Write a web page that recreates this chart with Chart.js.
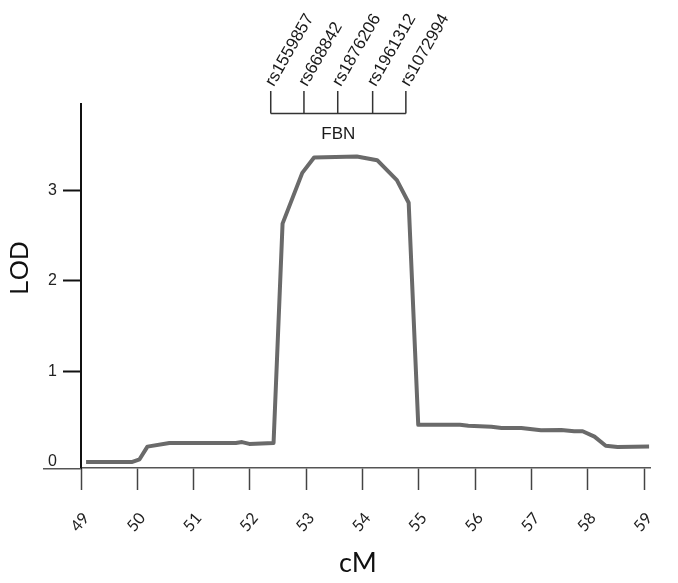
<!DOCTYPE html>
<html lang="en">
<head>
<meta charset="UTF-8" />
<title>LOD – FBN</title>
<script src="https://cdn.jsdelivr.net/npm/chart.js"></script>
<style>
  html, body { margin: 0; padding: 0; background: #fff; }
  canvas { display: block; }
</style>
</head>
<body>
<canvas id="chart-lod" width="678" height="583"></canvas>
<script>
// positions (cM) and LOD values
const cmPos = [49.09, 49.90, 50.04, 50.18, 50.57, 51.75, 51.86, 51.99, 52.42, 52.58, 52.93, 53.14, 53.90, 54.26, 54.61, 54.82, 54.99, 55.73, 55.88, 56.29, 56.47, 56.82, 57.17, 57.53, 57.76, 57.91, 58.12, 58.32, 58.53, 59.09];
const lodValues = [0.0, 0.0, 0.03, 0.17, 0.21, 0.21, 0.22, 0.20, 0.21, 2.63, 3.19, 3.36, 3.37, 3.33, 3.11, 2.86, 0.41, 0.41, 0.40, 0.39, 0.375, 0.375, 0.35, 0.353, 0.34, 0.34, 0.28, 0.18, 0.166, 0.17];

const xTicks = [49, 50, 51, 52, 53, 54, 55, 56, 57, 58, 59];
const yTicks = [0, 1, 2, 3];

// markers inside FBN
const snpNames = ['rs1559857', 'rs668842', 'rs1876206', 'rs1961312', 'rs1072994'];
const snpPos = [52.37, 52.96, 53.56, 54.18, 54.77];
const geneName = 'FBN';

const annot = {
    id: 'annot',
    afterDraw(chart) {
        const { ctx, chartArea, scales: { x } } = chart;
        ctx.save();

        // x axis runs a bit past the y axis on the left
        ctx.strokeStyle = '#555';
        ctx.lineWidth = 1.5;
        ctx.beginPath();
        ctx.moveTo(43, x.top + 0.75);
        ctx.lineTo(chartArea.left, x.top + 0.75);
        ctx.stroke();

        // gene bracket with SNP ticks
        const px = snpPos.map(v => x.getPixelForValue(v));
        ctx.strokeStyle = '#333';
        ctx.lineWidth = 1.5;
        ctx.beginPath();
        ctx.moveTo(px[0], 113.5);
        ctx.lineTo(px[px.length - 1], 113.5);
        px.forEach(p => { ctx.moveTo(p, 91); ctx.lineTo(p, 113.5); });
        ctx.stroke();

        ctx.fillStyle = '#1a1a1a';
        ctx.font = '17px "Liberation Sans", Arial, sans-serif';
        ctx.textAlign = 'left';
        ctx.textBaseline = 'middle';
        px.forEach((p, i) => {
            ctx.save();
            ctx.translate(p - 1, 85);
            ctx.rotate(-60 * Math.PI / 180);
            ctx.fillText(snpNames[i], 0, 0);
            ctx.restore();
        });

        ctx.font = '17px "Liberation Sans", Arial, sans-serif';
        ctx.textAlign = 'center';
        ctx.fillText(geneName, (px[0] + px[px.length - 1]) / 2, 134);

        // axis titles
        ctx.fillStyle = '#111';
        ctx.font = '26px "Liberation Sans", Arial, sans-serif';
        ctx.save();
        ctx.translate(21, 268);
        ctx.rotate(-Math.PI / 2);
        ctx.fillText('LOD', 0, 0);
        ctx.restore();

        ctx.font = '27px Lato, "Open Sans", sans-serif';
        ctx.fillText('cM', 358, 563);
        ctx.restore();
    }
};

new Chart(document.getElementById('chart-lod').getContext('2d'), {
    type: 'line',
    data: {
        datasets: [{
            data: cmPos.map((c, i) => ({ x: c, y: lodValues[i] })),
            borderColor: '#6a6a6a',
            borderWidth: 4,
            borderJoinStyle: 'round',
            pointRadius: 0,
            tension: 0,
            fill: false
        }]
    },
    options: {
        responsive: false,
        animation: false,
        devicePixelRatio: 1,
        layout: { padding: { top: 104, right: 25, left: 0, bottom: 0 } },
        plugins: { legend: { display: false }, tooltip: { enabled: false } },
        scales: {
            x: {
                type: 'linear',
                min: 49,
                max: 59.11,
                afterBuildTicks: s => { s.ticks = xTicks.map(v => ({ value: v })); },
                afterFit: s => { s.height = 115; },
                grid: { drawOnChartArea: false, drawTicks: true, tickLength: 22, tickWidth: 1.5, tickColor: '#444' },
                border: { display: true, color: '#555', width: 1.5 },
                ticks: {
                    minRotation: 50,
                    maxRotation: 50,
                    padding: 19,
                    labelOffset: 5,
                    color: '#222',
                    font: { family: 'Lato, "Open Sans", sans-serif', size: 16 }
                }
            },
            y: {
                type: 'linear',
                min: -0.066,
                max: 3.95,
                afterBuildTicks: s => { s.ticks = yTicks.map(v => ({ value: v })); },
                afterFit: s => { s.width = 81; },
                grid: {
                    drawOnChartArea: false,
                    drawTicks: true,
                    tickLength: 18,
                    tickWidth: 2,
                    tickColor: c => (c.tick && c.tick.value === 0 ? 'rgba(0,0,0,0)' : '#111')
                },
                border: { display: true, color: '#111', width: 2 },
                ticks: {
                    padding: 6,
                    color: '#222',
                    font: { family: '"Liberation Sans", Arial, sans-serif', size: 16 }
                }
            }
        }
    },
    plugins: [annot]
});
</script>
</body>
</html>
